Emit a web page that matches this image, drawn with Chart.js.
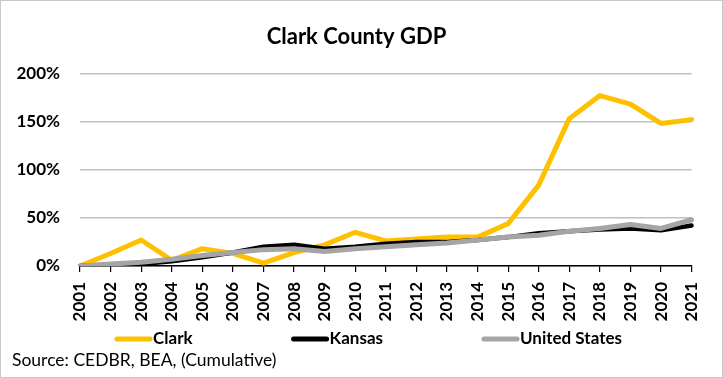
<!DOCTYPE html>
<html>
<head>
<meta charset="utf-8">
<script src="https://cdn.jsdelivr.net/npm/chart.js@4/dist/chart.umd.min.js"></script>
<style>
  html, body { margin: 0; padding: 0; background: #fff; }
  .wrap {
    width: 723px;
    height: 378px;
    box-sizing: border-box;
    border: 1px solid #c8c8c8;
  }
</style>
</head>
<body>
<div class="wrap">
  <canvas id="gdp_chart" width="721" height="376"></canvas>
</div>
<script>
// Данные
const years = ["2001", "2002", "2003", "2004", "2005", "2006", "2007", "2008", "2009", "2010", "2011",
  "2012", "2013", "2014", "2015", "2016", "2017", "2018", "2019", "2020", "2021"];
const clark = [0, 13, 27, 6, 18, 13, 3, 14, 22, 35, 26, 28, 30, 30, 44, 84, 153, 177, 168, 148, 152];
const kansas = [0, 1, 2, 5, 9, 14, 20, 22, 18, 20, 23, 25, 25, 27, 30, 34, 36, 38, 39, 37, 42];
const unitedStates = [0, 2, 4, 7, 11, 14, 17, 18, 15, 18, 20, 22, 24, 27, 30, 32, 36, 39, 43, 39, 48];
const yTicks = [0, 50, 100, 150, 200];

const font = "Lato, 'Open Sans', sans-serif";

// Легенда: линия вплотную к подписи, как в Excel
const lineLegend = {
  id: "lineLegend",
  afterDraw(chart) {
    const c = chart.ctx;
    const items = chart.data.datasets;
    const lineW = 37;
    const gap = 98;
    const y = 338;
    c.save();
    c.font = "bold 17px " + font;
    c.textBaseline = "middle";
    c.textAlign = "left";
    const widths = items.map((d) => lineW + 2 + c.measureText(d.label).width);
    const total = widths.reduce((a, b) => a + b, 0) + gap * (items.length - 1);
    let x = 368 - total / 2;
    items.forEach((d, i) => {
      c.strokeStyle = d.borderColor;
      c.lineWidth = 5;
      c.lineCap = "round";
      c.beginPath();
      c.moveTo(x + 2, y);
      c.lineTo(x + lineW - 2, y);
      c.stroke();
      c.fillStyle = "#000";
      c.fillText(d.label, x + lineW + 1, y);
      x += widths[i] + gap;
    });
    c.restore();
  },
};

// График
const ctx = document.getElementById("gdp_chart").getContext("2d");
const gdpChart = new Chart(ctx, {
  type: "line",
  data: {
    labels: years,
    datasets: [
      {
        label: "Clark",
        data: clark,
        borderColor: "#FFC000",
        backgroundColor: "#FFC000",
        borderWidth: 5,
        order: 3,
      },
      {
        label: "Kansas",
        data: kansas,
        borderColor: "#000000",
        backgroundColor: "#000000",
        borderWidth: 4.5,
        order: 2,
      },
      {
        label: "United States",
        data: unitedStates,
        borderColor: "#A5A5A5",
        backgroundColor: "#A5A5A5",
        borderWidth: 5,
        order: 1,
      },
    ],
  },
  plugins: [lineLegend],
  options: {
    responsive: false,
    animation: false,
    elements: {
      point: { radius: 0 },
      line: { tension: 0, borderCapStyle: "round", borderJoinStyle: "round" },
    },
    layout: {
      padding: { top: 0, right: 21, left: 11, bottom: 4 },
    },
    plugins: {
      tooltip: { enabled: false },
      legend: { display: false },
      title: {
        display: true,
        text: "Clark County GDP",
        color: "#000",
        font: { family: font, size: 22, weight: "bold" },
        padding: { top: 23, bottom: 23 },
      },
      subtitle: {
        display: true,
        position: "bottom",
        align: "start",
        text: "Source: CEDBR, BEA, (Cumulative)",
        color: "#000",
        font: { family: font, size: 17.5 },
        padding: { top: 24, bottom: 2 },
      },
    },
    scales: {
      y: {
        min: 0,
        max: 200,
        afterBuildTicks: (scale) => {
          scale.ticks = yTicks.map((v) => ({ value: v }));
        },
        afterFit: (scale) => {
          scale.width = 68;
        },
        border: { display: false },
        grid: {
          color: "#BFBFBF",
          lineWidth: 1.5,
          drawTicks: false,
        },
        ticks: {
          padding: 20,
          color: "#000",
          font: { family: font, size: 17, weight: "bold" },
          callback: (v) => v + "%",
        },
      },
      x: {
        offset: false,
        afterFit: (scale) => {
          scale.height = 60;
        },
        border: { display: true, color: "#000", width: 1.5 },
        grid: {
          drawOnChartArea: false,
          drawTicks: true,
          tickLength: 6,
          color: "#000",
          lineWidth: 1.2,
        },
        ticks: {
          minRotation: 90,
          maxRotation: 90,
          autoSkip: false,
          padding: 10,
          color: "#000",
          font: { family: font, size: 17, weight: "bold" },
        },
      },
    },
  },
});
</script>
</body>
</html>
